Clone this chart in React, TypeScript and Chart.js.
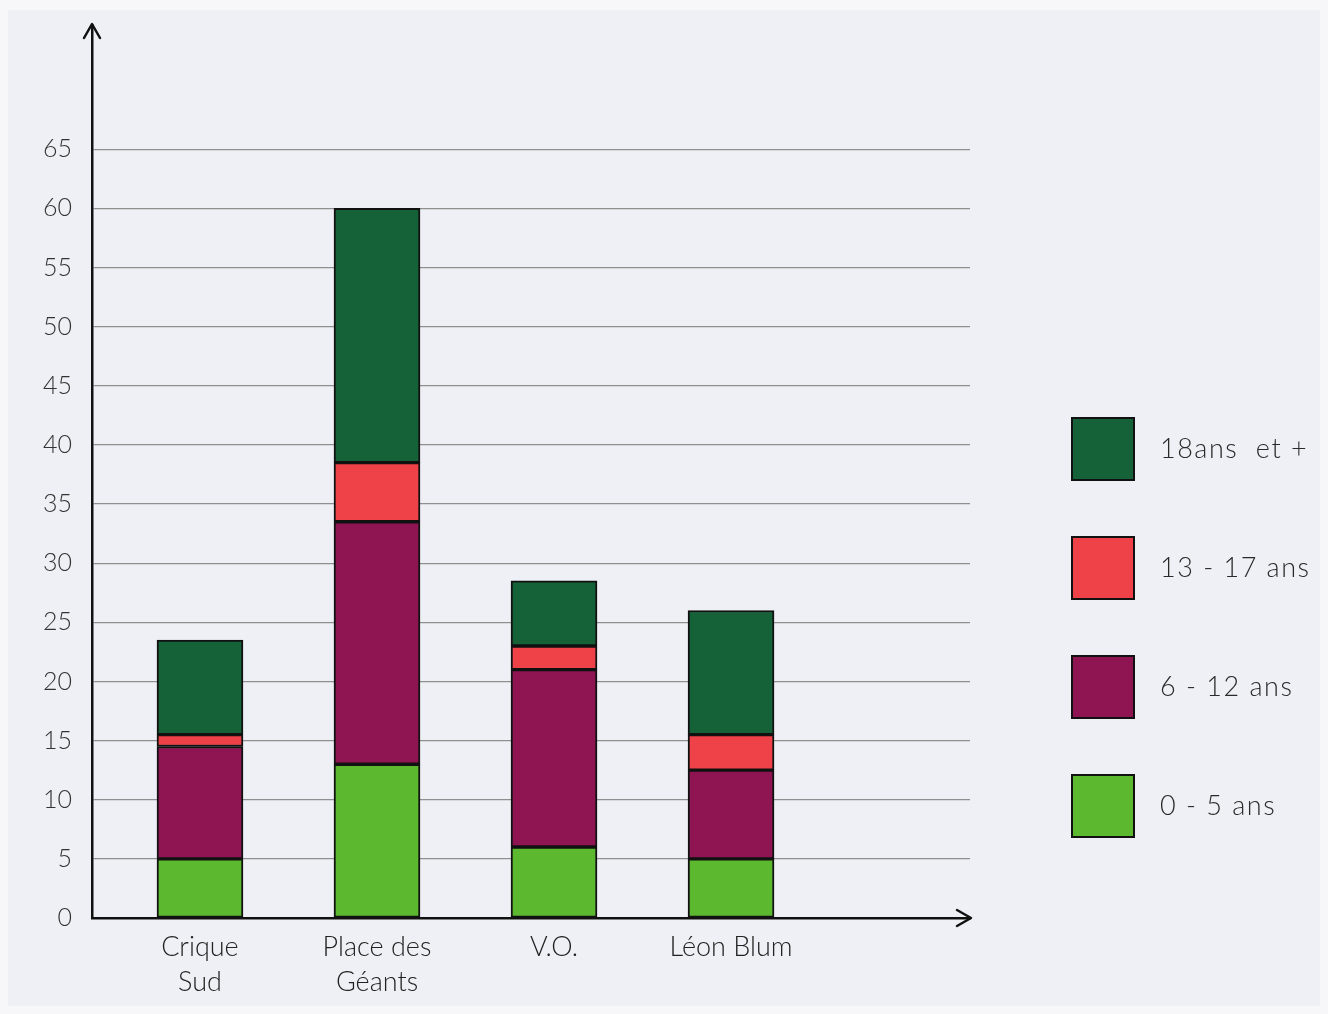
import React, { useEffect, useRef } from 'react';
import { Chart, registerables } from 'chart.js';

Chart.register(...registerables);

// ---- data ----
const categories: string[][] = [['Crique', 'Sud'], ['Place des', 'Géants'], ['V.O.'], ['Léon Blum']];
const positions = [1, 2, 3, 4];
const seriesNames = ['0 - 5 ans', '6 - 12 ans', '13 - 17 ans', '18ans  et +'];
const age0to5 = [5, 13, 6, 5];
const age6to12 = [9.5, 20.5, 15, 7.5];
const age13to17 = [1, 5, 2, 3];
const age18plus = [8, 21.5, 5.5, 10.5];
const yTickMax = 65;

const COLORS = ['#5cb82e', '#8f1452', '#ef4148', '#166238'];
const FONT = 'Lato, "DejaVu Sans", sans-serif';

const paperPlugin = {
  id: 'paper',
  beforeDraw(chart: any) {
    const { ctx, width, height } = chart;
    ctx.save();
    ctx.fillStyle = '#f7f7fa';
    ctx.fillRect(0, 0, width, height);
    ctx.fillStyle = '#eef0f5';
    ctx.fillRect(8, 10, width - 16, height - 18);
    ctx.restore();
  },
};

const arrowPlugin = {
  id: 'arrows',
  afterDraw(chart: any) {
    const { ctx, chartArea } = chart;
    const { left, top, right, bottom } = chartArea;
    ctx.save();
    ctx.strokeStyle = '#111';
    ctx.lineWidth = 2.5;
    ctx.lineCap = 'round';
    ctx.lineJoin = 'round';
    ctx.beginPath();
    ctx.moveTo(left - 8, top + 13);
    ctx.lineTo(left, top - 1);
    ctx.lineTo(left + 8, top + 13);
    ctx.stroke();
    ctx.beginPath();
    ctx.moveTo(right - 13, bottom - 8);
    ctx.lineTo(right + 1, bottom);
    ctx.lineTo(right - 13, bottom + 8);
    ctx.stroke();
    ctx.restore();
  },
};

const legendPlugin = {
  id: 'handLegend',
  afterDraw(chart: any) {
    const { ctx } = chart;
    const ds = chart.data.datasets;
    ctx.save();
    const n = ds.length;
    for (let k = 0; k < n; k++) {
      const d = ds[n - 1 - k];
      const top = 418 + k * 119;
      ctx.fillStyle = d.backgroundColor;
      ctx.fillRect(1072, top, 62, 62);
      ctx.strokeStyle = '#111';
      ctx.lineWidth = 2;
      ctx.strokeRect(1072, top, 62, 62);
      ctx.fillStyle = '#2a2a2a';
      ctx.font = `300 27px ${FONT}`;
      (ctx as any).letterSpacing = '1.5px';
      ctx.textBaseline = 'middle';
      ctx.textAlign = 'left';
      ctx.fillText(d.label, 1160, top + 31);
    }
    ctx.restore();
  },
};

export default function App() {
  const ref = useRef<HTMLCanvasElement>(null);

  useEffect(() => {
    const series = [age0to5, age6to12, age13to17, age18plus];
    const chart = new Chart(ref.current as HTMLCanvasElement, {
      type: 'bar',
      data: {
        datasets: series.map((vals, s) => ({
          label: seriesNames[s],
          data: vals.map((v, i) => ({ x: positions[i], y: v })),
          backgroundColor: COLORS[s],
          borderColor: '#111',
          borderWidth: 2,
          borderSkipped: false,
          barThickness: 86,
        })),
      } as any,
      options: {
        animation: false,
        responsive: true,
        maintainAspectRatio: false,
        layout: { padding: { top: 25, right: 358, left: 0, bottom: 0 } },
        plugins: {
          legend: { display: false },
          tooltip: { enabled: false },
        },
        scales: {
          x: {
            type: 'linear',
            offset: false,
            min: 0.39,
            max: 5.35,
            stacked: true,
            grid: { display: false, drawTicks: false },
            border: { color: '#111', width: 2.5 },
            ticks: {
              stepSize: 1,
              autoSkip: false,
              maxRotation: 0,
              padding: 12,
              color: '#222',
              font: { family: FONT, size: 27, weight: '300', lineHeight: 1.3 },
              callback: (v: any) => {
                const i = positions.indexOf(v);
                return i >= 0 ? categories[i] : '';
              },
            },
            afterFit: (s: any) => {
              s.height = 96;
              s.paddingLeft = 0;
              s.paddingRight = 0;
            },
          },
          y: {
            type: 'linear',
            min: 0,
            max: 75.5,
            stacked: true,
            grid: {
              drawTicks: false,
              lineWidth: 1.3,
              color: (c: any) =>
                c.tick && c.tick.value > 0 && c.tick.value <= yTickMax ? '#8f8f8f' : 'rgba(0,0,0,0)',
            },
            border: { color: '#111', width: 2.5 },
            ticks: {
              stepSize: 5,
              padding: 20,
              color: '#333',
              font: { family: FONT, size: 25, weight: '300' },
              callback: (v: any) => (v <= yTickMax && Number.isInteger(v) ? String(v) : ''),
            },
            afterFit: (s: any) => {
              s.width = 92;
              s.paddingTop = 0;
              s.paddingBottom = 0;
            },
          },
        },
      } as any,
      plugins: [paperPlugin, arrowPlugin, legendPlugin],
    });
    return () => chart.destroy();
  }, []);

  return (
    <div style={{ position: 'fixed', left: 0, top: 0, width: 1328, height: 1014 }}>
      <canvas ref={ref} />
    </div>
  );
}
